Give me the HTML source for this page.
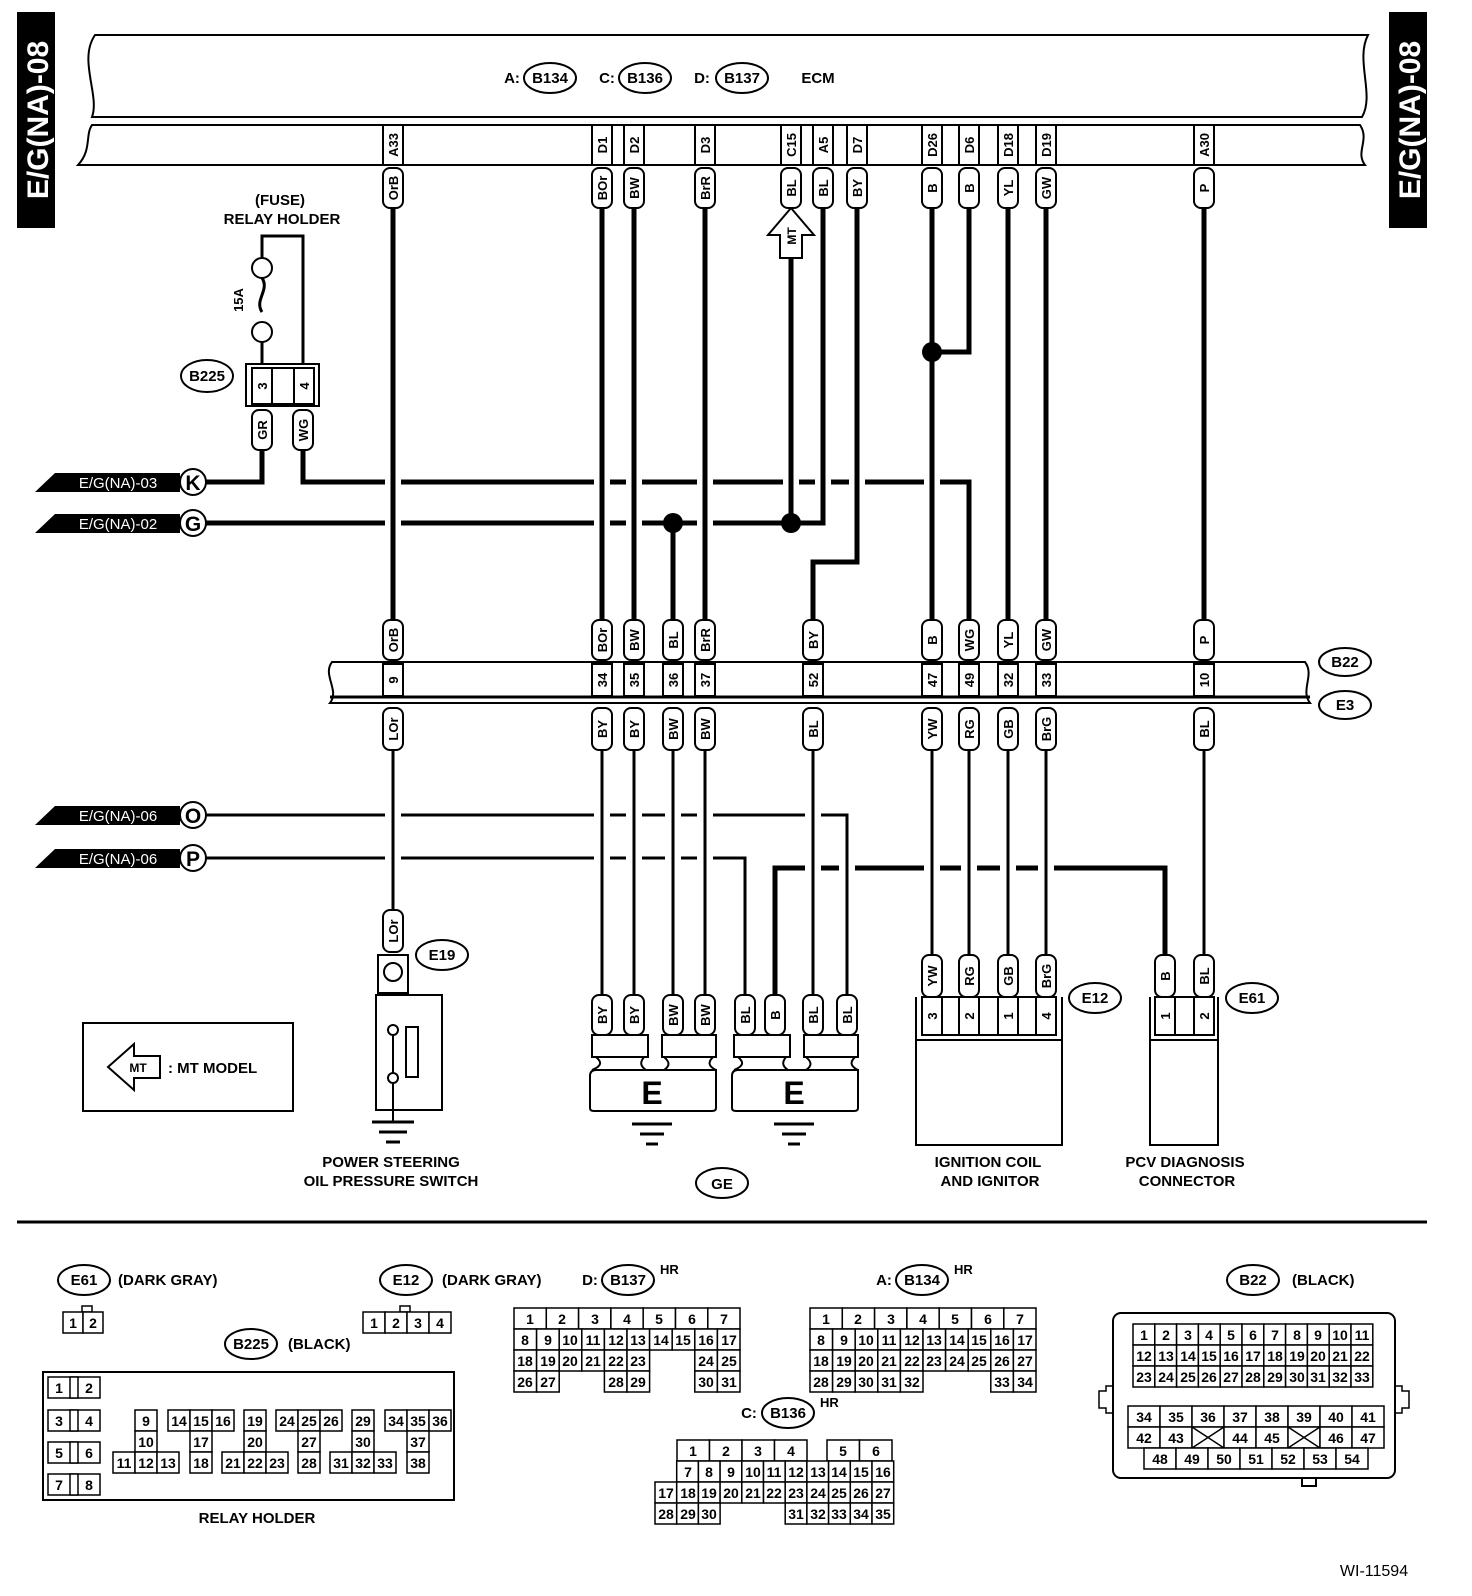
<!DOCTYPE html>
<html><head><meta charset="utf-8">
<style>
html,body{margin:0;padding:0;background:#fff}
svg{display:block}
text{font-family:"Liberation Sans",Arial,sans-serif;font-weight:bold;fill:#000}
.p{font-size:13px;text-anchor:middle}
.c{font-size:14px;text-anchor:middle;font-weight:normal;font-family:"Liberation Sans Narrow","Liberation Sans",sans-serif}
.l{font-size:15px;text-anchor:middle}
.w{stroke:#000;stroke-width:5;fill:none}
.wt{stroke:#000;stroke-width:3;fill:none}
.h{stroke:#fff;stroke-width:16;fill:none}
.pl{fill:#fff;stroke:#000;stroke-width:2}
.b{fill:#fff;stroke:#000;stroke-width:2}
.cl rect{fill:#fff;stroke:#000;stroke-width:1.5}
</style></head><body>
<svg width="1472" height="1596" viewBox="0 0 1472 1596" xmlns="http://www.w3.org/2000/svg">
<rect x="17" y="12" width="38" height="216" fill="#000"/>
<text transform="translate(48 120) rotate(-90)" style="font-size:30px;text-anchor:middle;fill:#fff">E/G(NA)-08</text>
<rect x="1389" y="12" width="38" height="216" fill="#000"/>
<text transform="translate(1420 120) rotate(-90)" style="font-size:30px;text-anchor:middle;fill:#fff">E/G(NA)-08</text>

<path d="M95,35 H1368 C1355,60 1375,95 1362,117 H92 C100,95 78,60 95,35 Z" class="b" stroke-width="3"/>
<path d="M92,125 H1360 C1370,140 1355,152 1365,165 H78 C92,150 85,135 92,125 Z" class="b" stroke-width="3"/>
<text x="512" y="83" style="font-size:15px;text-anchor:middle">A:</text>
<ellipse cx="550" cy="78" rx="26" ry="15" class="b" stroke-width="2.5"/><text x="550" y="83" class="l">B134</text>
<text x="607" y="83" style="font-size:15px;text-anchor:middle">C:</text>
<ellipse cx="645" cy="78" rx="26" ry="15" class="b" stroke-width="2.5"/><text x="645" y="83" class="l">B136</text>
<text x="702" y="83" style="font-size:15px;text-anchor:middle">D:</text>
<ellipse cx="742" cy="78" rx="26" ry="15" class="b" stroke-width="2.5"/><text x="742" y="83" class="l">B137</text>
<text x="818" y="83" class="l">ECM</text>

<g class="pl">
<rect x="383" y="125" width="20" height="40"/><rect x="592" y="125" width="20" height="40"/><rect x="624" y="125" width="20" height="40"/><rect x="695" y="125" width="20" height="40"/><rect x="781" y="125" width="20" height="40"/><rect x="813" y="125" width="20" height="40"/><rect x="847" y="125" width="20" height="40"/><rect x="922" y="125" width="20" height="40"/><rect x="959" y="125" width="20" height="40"/><rect x="998" y="125" width="20" height="40"/><rect x="1036" y="125" width="20" height="40"/><rect x="1194" y="125" width="20" height="40"/>
</g>
<g class="p">
<text transform="translate(398 145) rotate(-90)">A33</text><text transform="translate(607 145) rotate(-90)">D1</text><text transform="translate(639 145) rotate(-90)">D2</text><text transform="translate(710 145) rotate(-90)">D3</text><text transform="translate(796 145) rotate(-90)">C15</text><text transform="translate(828 145) rotate(-90)">A5</text><text transform="translate(862 145) rotate(-90)">D7</text><text transform="translate(937 145) rotate(-90)">D26</text><text transform="translate(974 145) rotate(-90)">D6</text><text transform="translate(1013 145) rotate(-90)">D18</text><text transform="translate(1051 145) rotate(-90)">D19</text><text transform="translate(1209 145) rotate(-90)">A30</text>
</g>

<path class="w" d="M180,482 H262 V450"/>
<path class="w" d="M303,450 V482 H969 V620"/>
<path class="w" d="M180,523 H823"/>
<path class="wt" d="M180,815 H847 V995"/>
<path class="wt" d="M180,858 H745 V995"/>
<path class="w" d="M775,995 V868 H1165 V955"/>

<path class="h" d="M393,215 V615 M602,215 V615 M634,215 V615 M705,215 V615 M857,215 V555 M932,360 V615 M791,262 V512 M823,215 V512 M393,755 V905 M602,755 V990 M634,755 V990 M673,755 V990 M705,755 V990 M813,755 V990 M932,755 V950 M969,755 V950 M1008,755 V950 M1046,755 V950 M847,825 V990"/>
<path class="w" d="M393,208 V620 M602,208 V620 M634,208 V620 M705,208 V620 M857,208 V562 H813 V620 M932,208 V620 M969,208 V352 H932 M791,258 V523 M823,208 V523 H791 M673,523 V620 M1008,208 V620 M1046,208 V620 M1204,208 V620"/>
<path class="wt" d="M393,750 V910 M602,750 V995 M634,750 V995 M673,750 V995 M705,750 V995 M813,750 V995 M932,750 V955 M969,750 V955 M1008,750 V955 M1046,750 V955 M1204,750 V955 M847,815 V995"/>
<circle cx="673" cy="523" r="10"/><circle cx="791" cy="523" r="10"/><circle cx="932" cy="352" r="10"/>

<path d="M791,208 L814,235 H802 V258 H780 V235 H768 Z" class="b" stroke-width="2.5"/>
<text transform="translate(796 236) rotate(-90)" class="p" style="font-size:12px">MT</text>

<g class="pl">
<rect x="383" y="168" width="20" height="40" rx="7"/><rect x="592" y="168" width="20" height="40" rx="7"/><rect x="624" y="168" width="20" height="40" rx="7"/><rect x="695" y="168" width="20" height="40" rx="7"/><rect x="813" y="168" width="20" height="40" rx="7"/><rect x="847" y="168" width="20" height="40" rx="7"/><rect x="922" y="168" width="20" height="40" rx="7"/><rect x="959" y="168" width="20" height="40" rx="7"/><rect x="998" y="168" width="20" height="40" rx="7"/><rect x="1036" y="168" width="20" height="40" rx="7"/><rect x="1194" y="168" width="20" height="40" rx="7"/>
<rect x="781" y="168" width="20" height="40" rx="7"/>
</g>
<g class="p">
<text transform="translate(398 188) rotate(-90)">OrB</text><text transform="translate(607 188) rotate(-90)">BOr</text><text transform="translate(639 188) rotate(-90)">BW</text><text transform="translate(710 188) rotate(-90)">BrR</text><text transform="translate(796 188) rotate(-90)">BL</text><text transform="translate(828 188) rotate(-90)">BL</text><text transform="translate(862 188) rotate(-90)">BY</text><text transform="translate(937 188) rotate(-90)">B</text><text transform="translate(974 188) rotate(-90)">B</text><text transform="translate(1013 188) rotate(-90)">YL</text><text transform="translate(1051 188) rotate(-90)">GW</text><text transform="translate(1209 188) rotate(-90)">P</text>
</g>

<text x="280" y="205" class="l">(FUSE)</text>
<text x="282" y="224" class="l">RELAY HOLDER</text>
<path d="M262,258 V236 H303 V365" class="wt"/>
<circle cx="262" cy="268" r="10" class="b" stroke-width="2.5"/>
<path d="M262,278 C270,290 254,300 262,312" class="wt"/>
<circle cx="262" cy="332" r="10" class="b" stroke-width="2.5"/>
<path d="M262,342 V365" class="wt"/>
<text transform="translate(243 300) rotate(-90)" class="p">15A</text>
<ellipse cx="207" cy="376" rx="26" ry="16" class="b" stroke-width="2.5"/><text x="207" y="381" class="l">B225</text>
<rect x="246" y="364" width="73" height="42" class="b" stroke-width="3"/>
<rect x="252" y="368" width="20" height="36" class="b"/><rect x="272" y="368" width="22" height="36" class="b"/><rect x="294" y="368" width="20" height="36" class="b"/>
<text transform="translate(267 386) rotate(-90)" class="p">3</text><text transform="translate(309 386) rotate(-90)" class="p">4</text>
<rect x="252" y="410" width="20" height="40" rx="7" class="pl"/><rect x="293" y="410" width="20" height="40" rx="7" class="pl"/>
<text transform="translate(267 430) rotate(-90)" class="p">GR</text><text transform="translate(308 430) rotate(-90)" class="p">WG</text>

<g>
<polygon points="35,492 55,473 180,473 180,492" fill="#000"/><text x="118" y="488" style="font-size:15px;text-anchor:middle;fill:#fff;font-weight:normal">E/G(NA)-03</text>
<circle cx="193" cy="482" r="13" class="b" stroke-width="3"/><text x="193" y="490" style="font-size:21px;text-anchor:middle">K</text>
<polygon points="35,533 55,514 180,514 180,533" fill="#000"/><text x="118" y="529" style="font-size:15px;text-anchor:middle;fill:#fff;font-weight:normal">E/G(NA)-02</text>
<circle cx="193" cy="523" r="13" class="b" stroke-width="3"/><text x="193" y="531" style="font-size:21px;text-anchor:middle">G</text>
<polygon points="35,825 55,806 180,806 180,825" fill="#000"/><text x="118" y="821" style="font-size:15px;text-anchor:middle;fill:#fff;font-weight:normal">E/G(NA)-06</text>
<circle cx="193" cy="815" r="13" class="b" stroke-width="3"/><text x="193" y="823" style="font-size:21px;text-anchor:middle">O</text>
<polygon points="35,868 55,849 180,849 180,868" fill="#000"/><text x="118" y="864" style="font-size:15px;text-anchor:middle;fill:#fff;font-weight:normal">E/G(NA)-06</text>
<circle cx="193" cy="858" r="13" class="b" stroke-width="3"/><text x="193" y="866" style="font-size:21px;text-anchor:middle">P</text>
</g>

<path d="M332,662 H1305 C1315,675 1300,690 1310,703 H330 C340,690 322,675 332,662 Z" class="b" stroke-width="3"/>
<line x1="330" y1="697" x2="1310" y2="697" stroke="#000" stroke-width="3"/>
<g class="pl">
<rect x="383" y="664" width="20" height="32"/><rect x="592" y="664" width="20" height="32"/><rect x="624" y="664" width="20" height="32"/><rect x="663" y="664" width="20" height="32"/><rect x="695" y="664" width="20" height="32"/><rect x="803" y="664" width="20" height="32"/><rect x="922" y="664" width="20" height="32"/><rect x="959" y="664" width="20" height="32"/><rect x="998" y="664" width="20" height="32"/><rect x="1036" y="664" width="20" height="32"/><rect x="1194" y="664" width="20" height="32"/>
</g>
<g class="p">
<text transform="translate(398 680) rotate(-90)">9</text><text transform="translate(607 680) rotate(-90)">34</text><text transform="translate(639 680) rotate(-90)">35</text><text transform="translate(678 680) rotate(-90)">36</text><text transform="translate(710 680) rotate(-90)">37</text><text transform="translate(818 680) rotate(-90)">52</text><text transform="translate(937 680) rotate(-90)">47</text><text transform="translate(974 680) rotate(-90)">49</text><text transform="translate(1013 680) rotate(-90)">32</text><text transform="translate(1051 680) rotate(-90)">33</text><text transform="translate(1209 680) rotate(-90)">10</text>
</g>
<ellipse cx="1345" cy="662" rx="26" ry="14" class="b" stroke-width="2.5"/><text x="1345" y="667" class="l">B22</text>
<ellipse cx="1345" cy="705" rx="26" ry="14" class="b" stroke-width="2.5"/><text x="1345" y="710" class="l">E3</text>
<g class="pl">
<rect x="383" y="620" width="20" height="40" rx="7"/><rect x="592" y="620" width="20" height="40" rx="7"/><rect x="624" y="620" width="20" height="40" rx="7"/><rect x="663" y="620" width="20" height="40" rx="7"/><rect x="695" y="620" width="20" height="40" rx="7"/><rect x="803" y="620" width="20" height="40" rx="7"/><rect x="922" y="620" width="20" height="40" rx="7"/><rect x="959" y="620" width="20" height="40" rx="7"/><rect x="998" y="620" width="20" height="40" rx="7"/><rect x="1036" y="620" width="20" height="40" rx="7"/><rect x="1194" y="620" width="20" height="40" rx="7"/>
</g>
<g class="p">
<text transform="translate(398 640) rotate(-90)">OrB</text><text transform="translate(607 640) rotate(-90)">BOr</text><text transform="translate(639 640) rotate(-90)">BW</text><text transform="translate(678 640) rotate(-90)">BL</text><text transform="translate(710 640) rotate(-90)">BrR</text><text transform="translate(818 640) rotate(-90)">BY</text><text transform="translate(937 640) rotate(-90)">B</text><text transform="translate(974 640) rotate(-90)">WG</text><text transform="translate(1013 640) rotate(-90)">YL</text><text transform="translate(1051 640) rotate(-90)">GW</text><text transform="translate(1209 640) rotate(-90)">P</text>
</g>
<g class="pl">
<rect x="383" y="708" width="20" height="42" rx="7"/><rect x="592" y="708" width="20" height="42" rx="7"/><rect x="624" y="708" width="20" height="42" rx="7"/><rect x="663" y="708" width="20" height="42" rx="7"/><rect x="695" y="708" width="20" height="42" rx="7"/><rect x="803" y="708" width="20" height="42" rx="7"/><rect x="922" y="708" width="20" height="42" rx="7"/><rect x="959" y="708" width="20" height="42" rx="7"/><rect x="998" y="708" width="20" height="42" rx="7"/><rect x="1036" y="708" width="20" height="42" rx="7"/><rect x="1194" y="708" width="20" height="42" rx="7"/>
</g>
<g class="p">
<text transform="translate(398 729) rotate(-90)">LOr</text><text transform="translate(607 729) rotate(-90)">BY</text><text transform="translate(639 729) rotate(-90)">BY</text><text transform="translate(678 729) rotate(-90)">BW</text><text transform="translate(710 729) rotate(-90)">BW</text><text transform="translate(818 729) rotate(-90)">BL</text><text transform="translate(937 729) rotate(-90)">YW</text><text transform="translate(974 729) rotate(-90)">RG</text><text transform="translate(1013 729) rotate(-90)">GB</text><text transform="translate(1051 729) rotate(-90)">BrG</text><text transform="translate(1209 729) rotate(-90)">BL</text>
</g>

<rect x="383" y="910" width="20" height="42" rx="7" class="pl"/><text transform="translate(398 931) rotate(-90)" class="p">LOr</text>
<ellipse cx="442" cy="955" rx="26" ry="15" class="b" stroke-width="2.5"/><text x="442" y="960" class="l">E19</text>
<rect x="378" y="955" width="30" height="38" class="b"/><circle cx="393" cy="972" r="9" class="b" stroke-width="2.5"/>
<rect x="376" y="995" width="66" height="115" class="b"/>
<circle cx="393" cy="1030" r="5" class="b"/><circle cx="393" cy="1078" r="5" class="b"/>
<line x1="393" y1="1035" x2="393" y2="1073" stroke="#000" stroke-width="2"/>
<rect x="406" y="1027" width="12" height="50" class="b"/>
<line x1="393" y1="1083" x2="393" y2="1122" stroke="#000" stroke-width="2"/>
<path d="M372,1122 H414 M379,1132 H407 M386,1142 H400" stroke="#000" stroke-width="3"/>
<text x="391" y="1167" class="l">POWER STEERING</text>
<text x="391" y="1186" class="l">OIL PRESSURE SWITCH</text>

<rect x="83" y="1023" width="210" height="88" class="b"/>
<path d="M108,1067 L134,1044 V1056 H160 V1078 H134 V1090 Z" class="b" stroke-width="2.5"/>
<text x="138" y="1072" style="font-size:12px;text-anchor:middle">MT</text>
<text x="168" y="1073" style="font-size:15px">: MT MODEL</text>

<g class="pl">
<rect x="592" y="995" width="20" height="40" rx="7"/><rect x="624" y="995" width="20" height="40" rx="7"/><rect x="663" y="995" width="20" height="40" rx="7"/><rect x="695" y="995" width="20" height="40" rx="7"/>
<rect x="735" y="995" width="20" height="40" rx="7"/><rect x="765" y="995" width="20" height="40" rx="7"/><rect x="803" y="995" width="20" height="40" rx="7"/><rect x="837" y="995" width="20" height="40" rx="7"/>
</g>
<g class="p">
<text transform="translate(607 1015) rotate(-90)">BY</text><text transform="translate(639 1015) rotate(-90)">BY</text><text transform="translate(678 1015) rotate(-90)">BW</text><text transform="translate(710 1015) rotate(-90)">BW</text>
<text transform="translate(750 1015) rotate(-90)">BL</text><text transform="translate(780 1015) rotate(-90)">B</text><text transform="translate(818 1015) rotate(-90)">BL</text><text transform="translate(852 1015) rotate(-90)">BL</text>
</g>
<g class="b">
<rect x="592" y="1035" width="56" height="22"/><rect x="662" y="1035" width="54" height="22"/>
<path d="M592,1070 C602,1066 602,1062 596,1057 M644,1057 C640,1062 640,1066 646,1070 M664,1057 C670,1062 670,1066 664,1070 M713,1057 C708,1062 708,1066 716,1070" fill="none"/>
<path d="M596,1070 H716 V1108 Q716,1111 712,1111 H594 Q590,1111 590,1108 V1076 Q590,1070 596,1070 Z"/>
<rect x="734" y="1035" width="56" height="22"/><rect x="804" y="1035" width="54" height="22"/>
<path d="M734,1070 C744,1066 744,1062 738,1057 M786,1057 C782,1062 782,1066 788,1070 M806,1057 C812,1062 812,1066 806,1070 M855,1057 C850,1062 850,1066 858,1070" fill="none"/>
<path d="M738,1070 H858 V1108 Q858,1111 854,1111 H736 Q732,1111 732,1108 V1076 Q732,1070 738,1070 Z"/>
</g>
<text x="652" y="1104" style="font-size:32px;text-anchor:middle">E</text>
<text x="794" y="1104" style="font-size:32px;text-anchor:middle">E</text>
<path d="M632,1124 H672 M640,1134 H664 M646,1144 H658 M774,1124 H814 M782,1134 H806 M788,1144 H800" stroke="#000" stroke-width="3"/>
<ellipse cx="722" cy="1183" rx="26" ry="15" class="b" stroke-width="2.5"/><text x="722" y="1189" class="l">GE</text>

<g class="pl">
<rect x="922" y="955" width="20" height="42" rx="7"/><rect x="959" y="955" width="20" height="42" rx="7"/><rect x="998" y="955" width="20" height="42" rx="7"/><rect x="1036" y="955" width="20" height="42" rx="7"/>
<rect x="1155" y="955" width="20" height="42" rx="7"/><rect x="1194" y="955" width="20" height="42" rx="7"/>
</g>
<g class="p">
<text transform="translate(937 976) rotate(-90)">YW</text><text transform="translate(974 976) rotate(-90)">RG</text><text transform="translate(1013 976) rotate(-90)">GB</text><text transform="translate(1051 976) rotate(-90)">BrG</text>
<text transform="translate(1170 976) rotate(-90)">B</text><text transform="translate(1209 976) rotate(-90)">BL</text>
</g>
<rect x="916" y="1040" width="146" height="105" class="b"/>
<path d="M916,997 V1040 H1062 V997" class="b" stroke-width="3" fill="none"/>
<g class="pl"><rect x="922" y="997" width="20" height="38"/><rect x="942" y="997" width="17" height="38"/><rect x="959" y="997" width="20" height="38"/><rect x="979" y="997" width="19" height="38"/><rect x="998" y="997" width="20" height="38"/><rect x="1018" y="997" width="18" height="38"/><rect x="1036" y="997" width="20" height="38"/></g>
<g class="p"><text transform="translate(937 1016) rotate(-90)">3</text><text transform="translate(974 1016) rotate(-90)">2</text><text transform="translate(1013 1016) rotate(-90)">1</text><text transform="translate(1051 1016) rotate(-90)">4</text></g>
<ellipse cx="1095" cy="998" rx="26" ry="15" class="b" stroke-width="2.5"/><text x="1095" y="1003" class="l">E12</text>
<text x="988" y="1167" class="l">IGNITION COIL</text><text x="990" y="1186" class="l">AND IGNITOR</text>
<rect x="1150" y="1040" width="68" height="105" class="b"/>
<path d="M1150,997 V1040 H1218 V997" class="b" stroke-width="3" fill="none"/>
<g class="pl"><rect x="1155" y="997" width="20" height="38"/><rect x="1175" y="997" width="19" height="38"/><rect x="1194" y="997" width="20" height="38"/></g>
<g class="p"><text transform="translate(1170 1016) rotate(-90)">1</text><text transform="translate(1209 1016) rotate(-90)">2</text></g>
<ellipse cx="1252" cy="998" rx="26" ry="15" class="b" stroke-width="2.5"/><text x="1252" y="1003" class="l">E61</text>
<text x="1185" y="1167" class="l">PCV DIAGNOSIS</text><text x="1187" y="1186" class="l">CONNECTOR</text>

<line x1="17" y1="1222" x2="1427" y2="1222" stroke="#000" stroke-width="3"/>

<ellipse cx="84" cy="1280" rx="26" ry="15" class="b" stroke-width="2.5"/><text x="84" y="1285" class="l">E61</text><text x="118" y="1285" style="font-size:15px">(DARK GRAY)</text>
<ellipse cx="406" cy="1280" rx="26" ry="15" class="b" stroke-width="2.5"/><text x="406" y="1285" class="l">E12</text><text x="442" y="1285" style="font-size:15px">(DARK GRAY)</text>
<text x="590" y="1285" style="font-size:15px;text-anchor:middle">D:</text><ellipse cx="628" cy="1280" rx="26" ry="15" class="b" stroke-width="2.5"/><text x="628" y="1285" class="l">B137</text><text x="660" y="1274" style="font-size:13px">HR</text>
<text x="884" y="1285" style="font-size:15px;text-anchor:middle">A:</text><ellipse cx="922" cy="1280" rx="26" ry="15" class="b" stroke-width="2.5"/><text x="922" y="1285" class="l">B134</text><text x="954" y="1274" style="font-size:13px">HR</text>
<ellipse cx="1253" cy="1280" rx="26" ry="15" class="b" stroke-width="2.5"/><text x="1253" y="1285" class="l">B22</text><text x="1292" y="1285" style="font-size:15px">(BLACK)</text>
<ellipse cx="251" cy="1344" rx="26" ry="15" class="b" stroke-width="2.5"/><text x="251" y="1349" class="l">B225</text><text x="288" y="1349" style="font-size:15px">(BLACK)</text>
<text x="749" y="1418" style="font-size:15px;text-anchor:middle">C:</text><ellipse cx="788" cy="1413" rx="26" ry="15" class="b" stroke-width="2.5"/><text x="788" y="1418" class="l">B136</text><text x="820" y="1407" style="font-size:13px">HR</text>

<g class="cl"><rect x="82" y="1306" width="10" height="6"/><rect x="63" y="1312" width="20" height="21"/><rect x="83" y="1312" width="20" height="21"/>
<rect x="400" y="1306" width="10" height="6"/><rect x="363" y="1312" width="22" height="21"/><rect x="385" y="1312" width="22" height="21"/><rect x="407" y="1312" width="22" height="21"/><rect x="429" y="1312" width="22" height="21"/></g>
<g class="c"><text x="73" y="1328">1</text><text x="93" y="1328">2</text><text x="374" y="1328">1</text><text x="396" y="1328">2</text><text x="418" y="1328">3</text><text x="440" y="1328">4</text></g>

<g class="cl">
<rect x="514" y="1308" width="32.3" height="21"/><rect x="546.3" y="1308" width="32.3" height="21"/><rect x="578.6" y="1308" width="32.3" height="21"/><rect x="610.9" y="1308" width="32.3" height="21"/><rect x="643.2" y="1308" width="32.3" height="21"/><rect x="675.5" y="1308" width="32.3" height="21"/><rect x="707.8" y="1308" width="32.2" height="21"/>
<rect x="514" y="1329" width="22.6" height="21"/><rect x="536.6" y="1329" width="22.6" height="21"/><rect x="559.2" y="1329" width="22.6" height="21"/><rect x="581.8" y="1329" width="22.6" height="21"/><rect x="604.4" y="1329" width="22.6" height="21"/><rect x="627" y="1329" width="22.6" height="21"/><rect x="649.6" y="1329" width="22.6" height="21"/><rect x="672.2" y="1329" width="22.6" height="21"/><rect x="694.8" y="1329" width="22.6" height="21"/><rect x="717.4" y="1329" width="22.6" height="21"/>
<rect x="514" y="1350" width="22.6" height="21"/><rect x="536.6" y="1350" width="22.6" height="21"/><rect x="559.2" y="1350" width="22.6" height="21"/><rect x="581.8" y="1350" width="22.6" height="21"/><rect x="604.4" y="1350" width="22.6" height="21"/><rect x="627" y="1350" width="22.6" height="21"/><rect x="694.8" y="1350" width="22.6" height="21"/><rect x="717.4" y="1350" width="22.6" height="21"/>
<rect x="514" y="1371" width="22.6" height="21"/><rect x="536.6" y="1371" width="22.6" height="21"/><rect x="604.4" y="1371" width="22.6" height="21"/><rect x="627" y="1371" width="22.6" height="21"/><rect x="694.8" y="1371" width="22.6" height="21"/><rect x="717.4" y="1371" width="22.6" height="21"/>
</g>
<g class="c">
<text x="530" y="1324">1</text><text x="562" y="1324">2</text><text x="595" y="1324">3</text><text x="627" y="1324">4</text><text x="659" y="1324">5</text><text x="692" y="1324">6</text><text x="724" y="1324">7</text>
<text x="525" y="1345">8</text><text x="548" y="1345">9</text><text x="570" y="1345">10</text><text x="593" y="1345">11</text><text x="616" y="1345">12</text><text x="638" y="1345">13</text><text x="661" y="1345">14</text><text x="683" y="1345">15</text><text x="706" y="1345">16</text><text x="729" y="1345">17</text>
<text x="525" y="1366">18</text><text x="548" y="1366">19</text><text x="570" y="1366">20</text><text x="593" y="1366">21</text><text x="616" y="1366">22</text><text x="638" y="1366">23</text><text x="706" y="1366">24</text><text x="729" y="1366">25</text>
<text x="525" y="1387">26</text><text x="548" y="1387">27</text><text x="616" y="1387">28</text><text x="638" y="1387">29</text><text x="706" y="1387">30</text><text x="729" y="1387">31</text>
</g>

<g class="cl">
<rect x="810" y="1308" width="32.3" height="21"/><rect x="842.3" y="1308" width="32.3" height="21"/><rect x="874.6" y="1308" width="32.3" height="21"/><rect x="906.9" y="1308" width="32.3" height="21"/><rect x="939.2" y="1308" width="32.3" height="21"/><rect x="971.5" y="1308" width="32.3" height="21"/><rect x="1003.8" y="1308" width="32.2" height="21"/>
<rect x="810" y="1329" width="22.6" height="21"/><rect x="832.6" y="1329" width="22.6" height="21"/><rect x="855.2" y="1329" width="22.6" height="21"/><rect x="877.8" y="1329" width="22.6" height="21"/><rect x="900.4" y="1329" width="22.6" height="21"/><rect x="923" y="1329" width="22.6" height="21"/><rect x="945.6" y="1329" width="22.6" height="21"/><rect x="968.2" y="1329" width="22.6" height="21"/><rect x="990.8" y="1329" width="22.6" height="21"/><rect x="1013.4" y="1329" width="22.6" height="21"/>
<rect x="810" y="1350" width="22.6" height="21"/><rect x="832.6" y="1350" width="22.6" height="21"/><rect x="855.2" y="1350" width="22.6" height="21"/><rect x="877.8" y="1350" width="22.6" height="21"/><rect x="900.4" y="1350" width="22.6" height="21"/><rect x="923" y="1350" width="22.6" height="21"/><rect x="945.6" y="1350" width="22.6" height="21"/><rect x="968.2" y="1350" width="22.6" height="21"/><rect x="990.8" y="1350" width="22.6" height="21"/><rect x="1013.4" y="1350" width="22.6" height="21"/>
<rect x="810" y="1371" width="22.6" height="21"/><rect x="832.6" y="1371" width="22.6" height="21"/><rect x="855.2" y="1371" width="22.6" height="21"/><rect x="877.8" y="1371" width="22.6" height="21"/><rect x="900.4" y="1371" width="22.6" height="21"/><rect x="990.8" y="1371" width="22.6" height="21"/><rect x="1013.4" y="1371" width="22.6" height="21"/>
</g>
<g class="c">
<text x="826" y="1324">1</text><text x="858" y="1324">2</text><text x="891" y="1324">3</text><text x="923" y="1324">4</text><text x="955" y="1324">5</text><text x="988" y="1324">6</text><text x="1020" y="1324">7</text>
<text x="821" y="1345">8</text><text x="844" y="1345">9</text><text x="866" y="1345">10</text><text x="889" y="1345">11</text><text x="912" y="1345">12</text><text x="934" y="1345">13</text><text x="957" y="1345">14</text><text x="979" y="1345">15</text><text x="1002" y="1345">16</text><text x="1025" y="1345">17</text>
<text x="821" y="1366">18</text><text x="844" y="1366">19</text><text x="866" y="1366">20</text><text x="889" y="1366">21</text><text x="912" y="1366">22</text><text x="934" y="1366">23</text><text x="957" y="1366">24</text><text x="979" y="1366">25</text><text x="1002" y="1366">26</text><text x="1025" y="1366">27</text>
<text x="821" y="1387">28</text><text x="844" y="1387">29</text><text x="866" y="1387">30</text><text x="889" y="1387">31</text><text x="912" y="1387">32</text><text x="1002" y="1387">33</text><text x="1025" y="1387">34</text>
</g>

<g class="cl">
<rect x="677" y="1440" width="32.5" height="21"/><rect x="709.5" y="1440" width="32.5" height="21"/><rect x="742" y="1440" width="32.5" height="21"/><rect x="774.5" y="1440" width="32.5" height="21"/><rect x="827" y="1440" width="32.5" height="21"/><rect x="859.5" y="1440" width="32.5" height="21"/>
<rect x="676.7" y="1461" width="21.7" height="21"/><rect x="698.4" y="1461" width="21.7" height="21"/><rect x="720.1" y="1461" width="21.7" height="21"/><rect x="741.8" y="1461" width="21.7" height="21"/><rect x="763.5" y="1461" width="21.7" height="21"/><rect x="785.2" y="1461" width="21.7" height="21"/><rect x="806.9" y="1461" width="21.7" height="21"/><rect x="828.6" y="1461" width="21.7" height="21"/><rect x="850.3" y="1461" width="21.7" height="21"/><rect x="872" y="1461" width="21.7" height="21"/>
<rect x="655" y="1482" width="21.7" height="21"/><rect x="676.7" y="1482" width="21.7" height="21"/><rect x="698.4" y="1482" width="21.7" height="21"/><rect x="720.1" y="1482" width="21.7" height="21"/><rect x="741.8" y="1482" width="21.7" height="21"/><rect x="763.5" y="1482" width="21.7" height="21"/><rect x="785.2" y="1482" width="21.7" height="21"/><rect x="806.9" y="1482" width="21.7" height="21"/><rect x="828.6" y="1482" width="21.7" height="21"/><rect x="850.3" y="1482" width="21.7" height="21"/><rect x="872" y="1482" width="21.7" height="21"/>
<rect x="655" y="1503" width="21.7" height="21"/><rect x="676.7" y="1503" width="21.7" height="21"/><rect x="698.4" y="1503" width="21.7" height="21"/><rect x="785.2" y="1503" width="21.7" height="21"/><rect x="806.9" y="1503" width="21.7" height="21"/><rect x="828.6" y="1503" width="21.7" height="21"/><rect x="850.3" y="1503" width="21.7" height="21"/><rect x="872" y="1503" width="21.7" height="21"/>
</g>
<g class="c">
<text x="693" y="1456">1</text><text x="726" y="1456">2</text><text x="758" y="1456">3</text><text x="791" y="1456">4</text><text x="843" y="1456">5</text><text x="876" y="1456">6</text>
<text x="688" y="1477">7</text><text x="709" y="1477">8</text><text x="731" y="1477">9</text><text x="753" y="1477">10</text><text x="774" y="1477">11</text><text x="796" y="1477">12</text><text x="818" y="1477">13</text><text x="839" y="1477">14</text><text x="861" y="1477">15</text><text x="883" y="1477">16</text>
<text x="666" y="1498">17</text><text x="688" y="1498">18</text><text x="709" y="1498">19</text><text x="731" y="1498">20</text><text x="753" y="1498">21</text><text x="774" y="1498">22</text><text x="796" y="1498">23</text><text x="818" y="1498">24</text><text x="839" y="1498">25</text><text x="861" y="1498">26</text><text x="883" y="1498">27</text>
<text x="666" y="1519">28</text><text x="688" y="1519">29</text><text x="709" y="1519">30</text><text x="796" y="1519">31</text><text x="818" y="1519">32</text><text x="839" y="1519">33</text><text x="861" y="1519">34</text><text x="883" y="1519">35</text>
</g>

<rect x="1113" y="1313" width="282" height="165" rx="8" class="b"/>
<path d="M1113,1386 H1106 V1391 H1099 V1408 H1106 V1413 H1113 M1395,1386 H1402 V1391 H1409 V1408 H1402 V1413 H1395" fill="none" stroke="#000" stroke-width="1.5"/>
<rect x="1302" y="1478" width="14" height="8" class="b" stroke-width="1.5"/>
<g class="cl">
<rect x="1133" y="1324" width="21.8" height="21"/><rect x="1154.8" y="1324" width="21.8" height="21"/><rect x="1176.6" y="1324" width="21.8" height="21"/><rect x="1198.4" y="1324" width="21.8" height="21"/><rect x="1220.2" y="1324" width="21.8" height="21"/><rect x="1242" y="1324" width="21.8" height="21"/><rect x="1263.8" y="1324" width="21.8" height="21"/><rect x="1285.6" y="1324" width="21.8" height="21"/><rect x="1307.4" y="1324" width="21.8" height="21"/><rect x="1329.2" y="1324" width="21.8" height="21"/><rect x="1351" y="1324" width="21.8" height="21"/>
<rect x="1133" y="1345" width="21.8" height="21"/><rect x="1154.8" y="1345" width="21.8" height="21"/><rect x="1176.6" y="1345" width="21.8" height="21"/><rect x="1198.4" y="1345" width="21.8" height="21"/><rect x="1220.2" y="1345" width="21.8" height="21"/><rect x="1242" y="1345" width="21.8" height="21"/><rect x="1263.8" y="1345" width="21.8" height="21"/><rect x="1285.6" y="1345" width="21.8" height="21"/><rect x="1307.4" y="1345" width="21.8" height="21"/><rect x="1329.2" y="1345" width="21.8" height="21"/><rect x="1351" y="1345" width="21.8" height="21"/>
<rect x="1133" y="1366" width="21.8" height="21"/><rect x="1154.8" y="1366" width="21.8" height="21"/><rect x="1176.6" y="1366" width="21.8" height="21"/><rect x="1198.4" y="1366" width="21.8" height="21"/><rect x="1220.2" y="1366" width="21.8" height="21"/><rect x="1242" y="1366" width="21.8" height="21"/><rect x="1263.8" y="1366" width="21.8" height="21"/><rect x="1285.6" y="1366" width="21.8" height="21"/><rect x="1307.4" y="1366" width="21.8" height="21"/><rect x="1329.2" y="1366" width="21.8" height="21"/><rect x="1351" y="1366" width="21.8" height="21"/>
<rect x="1128" y="1406" width="32" height="21"/><rect x="1160" y="1406" width="32" height="21"/><rect x="1192" y="1406" width="32" height="21"/><rect x="1224" y="1406" width="32" height="21"/><rect x="1256" y="1406" width="32" height="21"/><rect x="1288" y="1406" width="32" height="21"/><rect x="1320" y="1406" width="32" height="21"/><rect x="1352" y="1406" width="32" height="21"/>
<rect x="1128" y="1427" width="32" height="21"/><rect x="1160" y="1427" width="32" height="21"/><rect x="1192" y="1427" width="32" height="21"/><rect x="1224" y="1427" width="32" height="21"/><rect x="1256" y="1427" width="32" height="21"/><rect x="1288" y="1427" width="32" height="21"/><rect x="1320" y="1427" width="32" height="21"/><rect x="1352" y="1427" width="32" height="21"/>
<rect x="1144" y="1448" width="32" height="21"/><rect x="1176" y="1448" width="32" height="21"/><rect x="1208" y="1448" width="32" height="21"/><rect x="1240" y="1448" width="32" height="21"/><rect x="1272" y="1448" width="32" height="21"/><rect x="1304" y="1448" width="32" height="21"/><rect x="1336" y="1448" width="32" height="21"/>
</g>
<path d="M1192,1427 L1224,1448 M1224,1427 L1192,1448 M1288,1427 L1320,1448 M1320,1427 L1288,1448" stroke="#000" stroke-width="1.5"/>
<g class="c">
<text x="1144" y="1340">1</text><text x="1166" y="1340">2</text><text x="1188" y="1340">3</text><text x="1209" y="1340">4</text><text x="1231" y="1340">5</text><text x="1253" y="1340">6</text><text x="1275" y="1340">7</text><text x="1297" y="1340">8</text><text x="1318" y="1340">9</text><text x="1340" y="1340">10</text><text x="1362" y="1340">11</text>
<text x="1144" y="1361">12</text><text x="1166" y="1361">13</text><text x="1188" y="1361">14</text><text x="1209" y="1361">15</text><text x="1231" y="1361">16</text><text x="1253" y="1361">17</text><text x="1275" y="1361">18</text><text x="1297" y="1361">19</text><text x="1318" y="1361">20</text><text x="1340" y="1361">21</text><text x="1362" y="1361">22</text>
<text x="1144" y="1382">23</text><text x="1166" y="1382">24</text><text x="1188" y="1382">25</text><text x="1209" y="1382">26</text><text x="1231" y="1382">27</text><text x="1253" y="1382">28</text><text x="1275" y="1382">29</text><text x="1297" y="1382">30</text><text x="1318" y="1382">31</text><text x="1340" y="1382">32</text><text x="1362" y="1382">33</text>
<text x="1144" y="1422">34</text><text x="1176" y="1422">35</text><text x="1208" y="1422">36</text><text x="1240" y="1422">37</text><text x="1272" y="1422">38</text><text x="1304" y="1422">39</text><text x="1336" y="1422">40</text><text x="1368" y="1422">41</text>
<text x="1144" y="1443">42</text><text x="1176" y="1443">43</text><text x="1240" y="1443">44</text><text x="1272" y="1443">45</text><text x="1336" y="1443">46</text><text x="1368" y="1443">47</text>
<text x="1160" y="1464">48</text><text x="1192" y="1464">49</text><text x="1224" y="1464">50</text><text x="1256" y="1464">51</text><text x="1288" y="1464">52</text><text x="1320" y="1464">53</text><text x="1352" y="1464">54</text>
</g>

<rect x="43" y="1372" width="411" height="128" class="b"/>
<g class="cl">
<rect x="48" y="1377" width="52" height="21" stroke-width="2.5"/><rect x="48" y="1410" width="52" height="21" stroke-width="2.5"/><rect x="48" y="1442" width="52" height="21" stroke-width="2.5"/><rect x="48" y="1474" width="52" height="21" stroke-width="2.5"/>
<rect x="70" y="1377" width="8" height="21"/><rect x="70" y="1410" width="8" height="21"/><rect x="70" y="1442" width="8" height="21"/><rect x="70" y="1474" width="8" height="21"/>
<rect x="135" y="1410" width="22" height="21"/><rect x="135" y="1431" width="22" height="21"/><rect x="113" y="1452" width="22" height="21"/><rect x="135" y="1452" width="22" height="21"/><rect x="157" y="1452" width="22" height="21"/>
<rect x="168" y="1410" width="22" height="21"/><rect x="190" y="1410" width="22" height="21"/><rect x="212" y="1410" width="22" height="21"/><rect x="190" y="1431" width="22" height="21"/><rect x="190" y="1452" width="22" height="21"/>
<rect x="244" y="1410" width="22" height="21"/><rect x="244" y="1431" width="22" height="21"/><rect x="222" y="1452" width="22" height="21"/><rect x="244" y="1452" width="22" height="21"/><rect x="266" y="1452" width="22" height="21"/>
<rect x="276" y="1410" width="22" height="21"/><rect x="298" y="1410" width="22" height="21"/><rect x="320" y="1410" width="22" height="21"/><rect x="298" y="1431" width="22" height="21"/><rect x="298" y="1452" width="22" height="21"/>
<rect x="352" y="1410" width="22" height="21"/><rect x="352" y="1431" width="22" height="21"/><rect x="330" y="1452" width="22" height="21"/><rect x="352" y="1452" width="22" height="21"/><rect x="374" y="1452" width="22" height="21"/>
<rect x="385" y="1410" width="22" height="21"/><rect x="407" y="1410" width="22" height="21"/><rect x="429" y="1410" width="22" height="21"/><rect x="407" y="1431" width="22" height="21"/><rect x="407" y="1452" width="22" height="21"/>
</g>
<g class="c">
<text x="59" y="1393">1</text><text x="89" y="1393">2</text><text x="59" y="1426">3</text><text x="89" y="1426">4</text><text x="59" y="1458">5</text><text x="89" y="1458">6</text><text x="59" y="1490">7</text><text x="89" y="1490">8</text>
<text x="146" y="1426">9</text><text x="146" y="1447">10</text><text x="124" y="1468">11</text><text x="146" y="1468">12</text><text x="168" y="1468">13</text>
<text x="179" y="1426">14</text><text x="201" y="1426">15</text><text x="223" y="1426">16</text><text x="201" y="1447">17</text><text x="201" y="1468">18</text>
<text x="255" y="1426">19</text><text x="255" y="1447">20</text><text x="233" y="1468">21</text><text x="255" y="1468">22</text><text x="277" y="1468">23</text>
<text x="287" y="1426">24</text><text x="309" y="1426">25</text><text x="331" y="1426">26</text><text x="309" y="1447">27</text><text x="309" y="1468">28</text>
<text x="363" y="1426">29</text><text x="363" y="1447">30</text><text x="341" y="1468">31</text><text x="363" y="1468">32</text><text x="385" y="1468">33</text>
<text x="396" y="1426">34</text><text x="418" y="1426">35</text><text x="440" y="1426">36</text><text x="418" y="1447">37</text><text x="418" y="1468">38</text>
</g>
<text x="257" y="1523" class="l">RELAY HOLDER</text>
<text x="1374" y="1576" style="font-size:16px;text-anchor:middle;font-weight:normal">WI-11594</text>
</svg>
</body></html>
